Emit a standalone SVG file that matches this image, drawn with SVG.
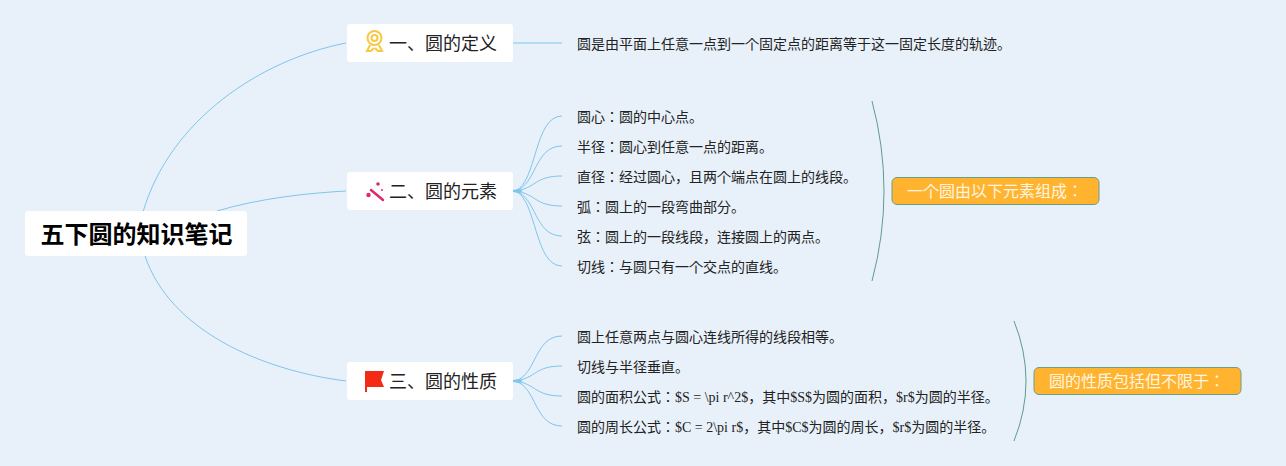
<svg xmlns="http://www.w3.org/2000/svg" width="1286" height="466" viewBox="0 0 1286 466">
<style>
text{font-family:"Liberation Serif","Noto Sans CJK JP",serif;fill:#222}
.leaf{font-size:14px}
.branch{font-size:18px}
.root{font-size:24px;font-weight:700;fill:#000}
.call{font-size:16px;fill:#fff6e0}
.box{fill:#fff}
.callbox{fill:#ffb32f;stroke:#6a9f82;stroke-width:1}
.c{fill:none;stroke:#7fc5ec;stroke-width:1}
.h{fill:#7fc5ec}
.b{fill:none;stroke:#5f9a90;stroke-width:1}
</style>
<rect width="1286" height="466" fill="#e8f1fa"/>
<g id="connectors">
<path class="c" d="M143 212C170 120 260 60 346 43"/>
<path class="c" d="M217 211C260 198 310 193 346 191"/>
<path class="c" d="M145 256C170 330 260 370 346 381"/>
<path class="c" d="M513 43H562"/>
<path class="h" d="M513 190L519 189L523 191L519 193L513 192Z"/>
<path class="c" d="M515 191C537 183 534 116 562 116"/>
<path class="c" d="M515 191C537 185 534 146 562 146"/>
<path class="c" d="M515 191C537 188 534 176 562 176"/>
<path class="c" d="M515 191C537 194 534 206 562 206"/>
<path class="c" d="M515 191C537 197 534 236 562 236"/>
<path class="c" d="M515 191C537 199 534 266 562 266"/>
<path class="h" d="M513 380L519 379L523 381L519 383L513 382Z"/>
<path class="c" d="M515 381C537 375 534 336 562 336"/>
<path class="c" d="M515 381C537 378 534 366 562 366"/>
<path class="c" d="M515 381C537 384 534 396 562 396"/>
<path class="c" d="M515 381C537 387 534 426 562 426"/>
<path class="b" d="M872 101Q896 191 872 281"/>
<path class="b" d="M1014 321Q1038 381 1014 441"/>
</g>
<g id="root"><rect class="box" x="25" y="211" width="222" height="45" rx="3"/><text class="root" x="40.500" y="243">五下圆的知识笔记</text></g>
<g id="branch1"><rect class="box" x="347" y="24" width="166" height="38" rx="3"/>
<g fill="none" stroke="#f7c844" stroke-width="2"><circle cx="374.500" cy="38" r="7"/><circle cx="374.500" cy="38" r="3"/><path d="M370 45L367 51L371 51L374 48M379 45L382 51L378 51L375 48"/></g>
<text class="branch" x="389" y="50">一、圆的定义</text></g>
<g id="branch2"><rect class="box" x="347" y="172" width="166" height="38" rx="3"/>
<path d="M371 190L383 200" stroke="#e0286c" stroke-width="2.500" stroke-linecap="round"/><circle cx="378" cy="184" r="1.800" fill="#e0286c"/><circle cx="368.500" cy="195" r="2.200" fill="#e0286c"/><circle cx="382" cy="190" r="1" fill="#e0286c"/>
<text class="branch" x="389" y="198">二、圆的元素</text></g>
<g id="branch3"><rect class="box" x="347" y="362" width="166" height="38" rx="3"/>
<path d="M365 371H384L381 380L384 387H367V392H365Z" fill="#f32b14"/>
<text class="branch" x="389" y="388">三、圆的性质</text></g>
<g id="leaf1"><text class="leaf" x="577" y="49">圆是由平面上任意一点到一个固定点的距离等于这一固定长度的轨迹。</text></g>
<g id="leaf2"><text class="leaf" x="577" y="122">圆心：圆的中心点。</text></g>
<g id="leaf3"><text class="leaf" x="577" y="152">半径：圆心到任意一点的距离。</text></g>
<g id="leaf4"><text class="leaf" x="577" y="182">直径：经过圆心，且两个端点在圆上的线段。</text></g>
<g id="leaf5"><text class="leaf" x="577" y="212">弧：圆上的一段弯曲部分。</text></g>
<g id="leaf6"><text class="leaf" x="577" y="242">弦：圆上的一段线段，连接圆上的两点。</text></g>
<g id="leaf7"><text class="leaf" x="577" y="272">切线：与圆只有一个交点的直线。</text></g>
<g id="leaf8"><text class="leaf" x="577" y="342">圆上任意两点与圆心连线所得的线段相等。</text></g>
<g id="leaf9"><text class="leaf" x="577" y="372">切线与半径垂直。</text></g>
<g id="leaf10"><text class="leaf" x="577" y="402">圆的面积公式：$S = \pi r^2$，其中$S$为圆的面积，$r$为圆的半径。</text></g>
<g id="leaf11"><text class="leaf" x="577" y="432">圆的周长公式：$C = 2\pi r$，其中$C$为圆的周长，$r$为圆的半径。</text></g>
<g id="summary1"><rect class="callbox" x="892" y="177.500" width="207" height="27" rx="5"/><text class="call" x="907" y="197">一个圆由以下元素组成：</text></g>
<g id="summary2"><rect class="callbox" x="1034" y="367.500" width="207" height="27" rx="5"/><text class="call" x="1049" y="387">圆的性质包括但不限于：</text></g>
</svg>
